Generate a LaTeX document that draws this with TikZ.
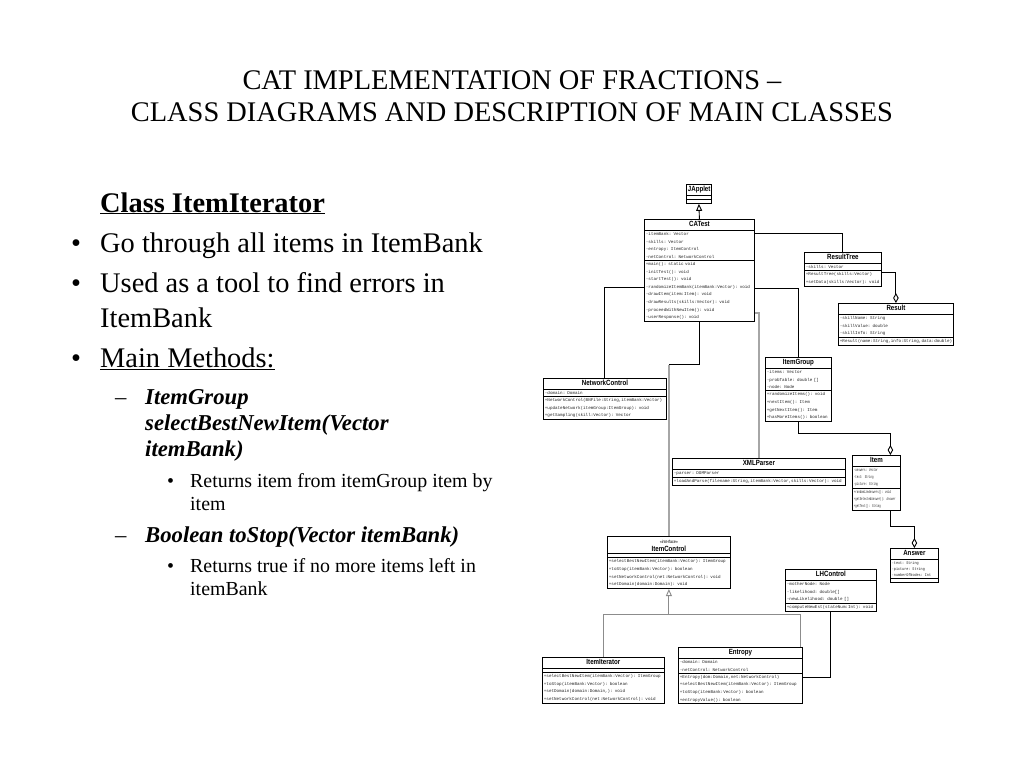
\documentclass[tikz,border=0pt]{standalone}
\usepackage{fontspec}
\setmainfont{Liberation Serif}
\newfontfamily\umlmono{Liberation Mono}
\newfontfamily\umlnarrow[FakeStretch=0.58]{Liberation Mono}
\newfontfamily\umlcond[FakeStretch=0.86]{Liberation Mono}
\newfontfamily\umlsans[FakeStretch=0.82]{Liberation Sans}
\usetikzlibrary{arrows.meta,shapes.multipart,calc}
\newcommand{\cname}[1]{\centering\color{black}\umlsans\bfseries\fontsize{7.5}{8}\selectfont\rule[-1.6pt]{0pt}{7pt}#1\par}
\newcommand{\memfont}{\umlmono\fontsize{4.25}{7.6}\selectfont}
\newcommand{\ttlf}{\fontsize{28.4}{32}\selectfont}
\newcommand{\bodyf}{\fontsize{28.4}{34}\selectfont}
\newcommand{\subf}{\fontsize{22.7}{26}\selectfont}
\newcommand{\subsubf}{\fontsize{19.9}{23}\selectfont}

\begin{document}
\begin{tikzpicture}[x=1pt, y=-1pt,
  cls/.style={rectangle split, rectangle split parts=3, draw=black, line width=0.8pt,
    fill=white, anchor=north west, inner xsep=1.5pt, inner ysep=1.6pt, align=left,
    font=\memfont, text=black!85, rectangle split empty part height=0.5pt},
  assoc/.style={draw=black, line width=0.9pt},
  dep/.style={draw=black!35, line width=1.3pt},
  real/.style={draw=black!45, line width=0.9pt},
  gen/.style={assoc, -{Triangle[open, length=7pt, width=6pt]}},
  aggr/.style={assoc, -{Diamond[open, length=10pt, width=5.5pt]}},
  txt/.style={anchor=base west, inner sep=0pt}]
  \fill[white] (0,0) rectangle (1024,768);
  \useasboundingbox (0,0) rectangle (1024,768);

  % title
  \node[anchor=base, inner sep=0pt, font=\ttlf] (title1) at (512,89) {CAT IMPLEMENTATION OF FRACTIONS –};
  \node[anchor=base, inner sep=0pt, font=\ttlf] (title2) at (512,121) {CLASS DIAGRAMS AND DESCRIPTION OF MAIN CLASSES};

  % left column
  \node[txt, font=\bodyf\bfseries] (head) at (100,212) {\underline{Class ItemIterator}};
  \node[txt, font=\bodyf] (dot1) at (71,252) {•};
  \node[txt, font=\bodyf] (go) at (100,252) {Go through all items in ItemBank};
  \node[txt, font=\bodyf] (dot2) at (71,292) {•};
  \node[txt, font=\bodyf] (used) at (100,292) {Used as a tool to find errors in};
  \node[txt, font=\bodyf] (usedb) at (100,327) {ItemBank};
  \node[txt, font=\bodyf] (dot3) at (71,367) {•};
  \node[txt, font=\bodyf] (mm) at (100,367) {\underline{Main Methods:}};
  \node[txt, font=\subf] (dash1) at (115,404) {–};
  \node[txt, font=\subf\bfseries\itshape] (sel1) at (145,404) {ItemGroup};
  \node[txt, font=\subf\bfseries\itshape] (sel2) at (145,430) {selectBestNewItem(Vector};
  \node[txt, font=\subf\bfseries\itshape] (sel3) at (145,456) {itemBank)};
  \node[txt, font=\subsubf] (dot4) at (167,487) {•};
  \node[txt, font=\subsubf] (ret1) at (190,487) {Returns item from itemGroup item by};
  \node[txt, font=\subsubf] (ret1b) at (190,510) {item};
  \node[txt, font=\subf] (dash2) at (115,542) {–};
  \node[txt, font=\subf\bfseries\itshape] (stop) at (145,542) {Boolean toStop(Vector itemBank)};
  \node[txt, font=\subsubf] (dot5) at (167,572) {•};
  \node[txt, font=\subsubf] (ret2) at (190,572) {Returns true if no more items left in};
  \node[txt, font=\subsubf] (ret2b) at (190,595) {itemBank};

  % classes
  \node[cls, text width=22pt] (japplet) at (686,184) {\cname{JApplet}\nodepart{two}\nodepart{three}};
  \node[cls, text width=107pt] (catest) at (644,219) {\cname{CATest}
    \nodepart{two}-itemBank: Vector\\-skills: Vector\\-entropy: ItemControl\\-netControl: NetworkControl
    \nodepart{three}+main(): static void\\-initTest(): void\\-startTest(): void\\-randomizeItemBank(itemBank:Vector): void\\-drawItem(item:Item): void\\-drawResults(skills:Vector): void\\-proceedWithNewItem(): void\\-userResponse(): void};
  \node[cls, text width=74pt] (resulttree) at (804,252) {\cname{ResultTree}
    \nodepart{two}-skills: Vector
    \nodepart{three}+ResultTree(skills:Vector)\\+setData(skills:Vector): void};
  \node[cls, text width=112pt] (result) at (838,303) {\cname{Result}
    \nodepart{two}-skillName: String\\-skillValue: double\\-skillInfo: String
    \nodepart{three}+Result(name:String,info:String,data:double)};
  \node[cls, text width=120pt] (netcontrol) at (543,378) {\cname{NetworkControl}
    \nodepart{two}-domain: Domain
    \nodepart{three}+NetworkControl(BNFile:String,itemBank:Vector)\\+updateNetwork(itemGroup:ItemGroup): void\\+getSampling(skill:Vector): Vector};
  \node[cls, text width=63pt] (itemgroup) at (765,357) {\cname{ItemGroup}
    \nodepart{two}-items: Vector\\-probTable: double []\\-node: Node
    \nodepart{three}+randomizeItems(): void\\+nextItem(): Item\\+getNextItem(): Item\\+hasMoreItems(): boolean};
  \node[cls, text width=170pt] (xmlparser) at (672,458) {\cname{XMLParser}
    \nodepart{two}-parser: DOMParser
    \nodepart{three}+loadAndParse(filename:String,itemBank:Vector,skills:Vector): void};
  \node[cls, text width=45pt, font=\umlnarrow\fontsize{4.2}{7.2}\selectfont] (item) at (852,455) {\cname{Item}
    \nodepart{two}-answers: Vector\\-text: String\\-picture: String
    \nodepart{three}+randomizeAnswers(): void\\+getSelectedAnswer(): Answer\\+getText(): String};
  \node[cls, text width=45pt, font=\umlcond\fontsize{4}{6.2}\selectfont] (answer) at (890,548) {\cname{Answer}
    \nodepart{two}-text: String\\-picture: String\\-numberOfNodes: Int
    \nodepart{three}};
  \node[cls, text width=88pt] (lhcontrol) at (785,569) {\cname{LHControl}
    \nodepart{two}-motherNode: Node\\-likelihood: double[]\\-newLikelihood: double []
    \nodepart{three}+computeNewEst(stateNum:Int): void};
  \node[cls, text width=120pt] (itemcontrol) at (607,536) {\cname{{\fontsize{4.5}{5}\mdseries\selectfont «interface»}\\ItemControl}
    \nodepart{two}
    \nodepart{three}+selectBestNewItem(itemBank:Vector): ItemGroup\\+toStop(itemBank:Vector): boolean\\+setNetworkControl(net:NetworkControl): void\\+setDomain(domain:Domain): void};
  \node[cls, text width=119pt] (itemiterator) at (542,657) {\cname{ItemIterator}
    \nodepart{two}
    \nodepart{three}+selectBestNewItem(itemBank:Vector): ItemGroup\\+toStop(itemBank:Vector): boolean\\+setDomain(domain:Domain,): void\\+setNetworkControl(net:NetworkControl): void};
  \node[cls, text width=121pt] (entropy) at (678,647) {\cname{Entropy}
    \nodepart{two}-domain: Domain\\-netControl: NetworkControl
    \nodepart{three}+Entropy(dom:Domain,net:NetworkControl)\\+selectBestNewItem(itemBank:Vector): ItemGroup\\+toStop(itemBank:Vector): boolean\\+entropyValue(): boolean};

  % connectors
  \draw[gen] (catest.north) -- (japplet.south);
  \draw[assoc] ([yshift=-14pt]catest.north east) -| (resulttree.north);
  \draw[assoc] ([yshift=-69pt]catest.north east) -| (itemgroup.north);
  \draw[assoc] ([yshift=-68pt]catest.north west) -| (netcontrol.north);
  \coordinate (bend) at ($(catest.south)+(0,43)$);
  \draw[assoc] (catest.south) -- (bend) -- (bend -| itemcontrol.north);
  \draw[dep] (bend -| itemcontrol.north) -- (itemcontrol.north);
  \draw[dep] ([yshift=-94pt]catest.north east) -| (xmlparser.north);
  \draw[aggr] ([yshift=-20pt]resulttree.north east) -| (result.north);
  \draw[aggr] (itemgroup.south) -- ++(0,12) -| ([xshift=14pt]item.north);
  \draw[aggr] ([xshift=14pt]item.south) -- ++(0,15) -| (answer.north);
  \coordinate (split) at ($(itemcontrol.south)+(0,25)$);
  \draw[real, {Triangle[open, length=7pt, width=6pt]}-] (itemcontrol.south) -- (split);
  \draw[real] (itemiterator.north) |- (split) -| ([xshift=-2pt]entropy.north east);
  \draw[assoc] ([yshift=-30pt]entropy.north east) -| (lhcontrol.south);
\end{tikzpicture}
\end{document}
